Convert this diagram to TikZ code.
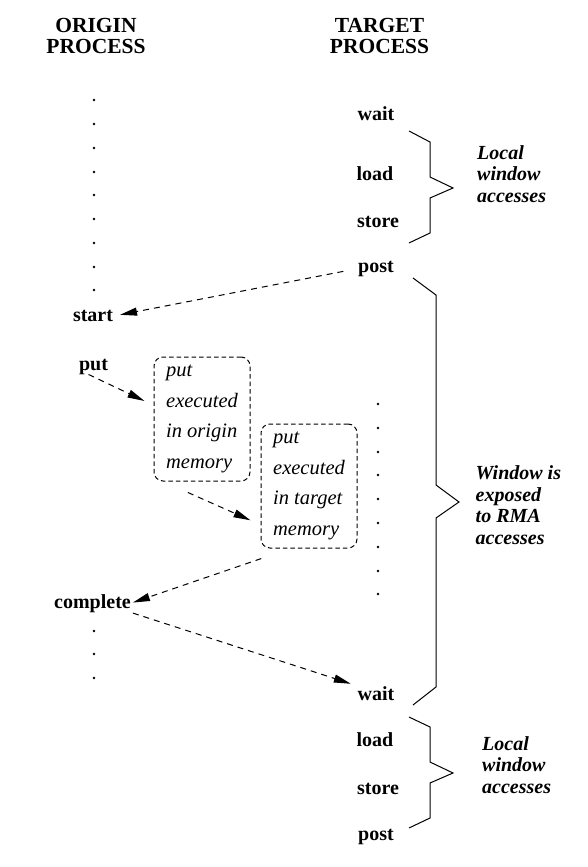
\documentclass[tikz,border=0pt]{standalone}
\usepackage{fontspec}
\setmainfont{Liberation Serif}
\usetikzlibrary{arrows.meta,calc}
\begin{document}
\begin{tikzpicture}[x=1pt,y=-1pt,
  head/.style={font=\fontsize{21.5}{21}\selectfont\bfseries, align=center, inner sep=0pt},
  lbl/.style={font=\fontsize{20}{24}\selectfont\bfseries, inner sep=0pt, anchor=base},
  membox/.style={draw, dash pattern=on 4.5pt off 3pt, rounded corners=9pt, line width=1pt,
    minimum width=96pt, minimum height=124pt, inner sep=0pt, align=left,
    font=\fontsize{20.5}{30.5}\selectfont\itshape},
  note/.style={font=\fontsize{20}{21.5}\selectfont\bfseries\itshape, align=left, inner sep=0pt, anchor=west},
  flow/.style={-{Triangle[length=17pt,width=8pt]}, dash pattern=on 6pt off 5pt, line width=1pt},
  bracep/.style={line width=1pt, line join=miter},
  dotc/.style={fill=black}
]
\useasboundingbox (0,0) rectangle (588,867);

% headings
\node[head] (hor) at (96,35.5) {ORIGIN\\PROCESS};
\node[head] (hta) at (379.5,35.5) {TARGET\\PROCESS};

% target labels (top)
\node[lbl] (wait1) at (376,120.5) {wait};
\node[lbl] (load1) at (375,180) {load};
\node[lbl] (store1) at (378,227) {store};
\node[lbl] (post1) at (376,272) {post};

% target labels (bottom)
\node[lbl] (wait2) at (376,700) {wait};
\node[lbl] (load2) at (375,746) {load};
\node[lbl] (store2) at (378,794) {store};
\node[lbl] (post2) at (376,840) {post};

% origin labels
\node[lbl] (start) at (93,321.7) {start};
\node[lbl] (put) at (93.5,370) {put};
\node[lbl] (complete) at (92.5,608) {complete};

% memory boxes
\node[membox] (box1) at (202,419) {put\\executed\\in origin\\memory};
\node[membox] (box2) at (309,486) {put\\executed\\in target\\memory};

% notes
\node[note] (note1) at (477,174) {Local\\window\\accesses};
\node[note] (note2) at (475.5,505.3) {Window is\\exposed\\to RMA\\accesses};
\node[note] (note3) at (482,765) {Local\\window\\accesses};

% dots
\foreach \yy in {100,124,148,172,195,219,243,267,290}
  \fill[dotc] (94,\yy) circle (1.4pt);
\foreach \yy in {404,428,452,475,499,523,547,571,594}
  \fill[dotc] (378,\yy) circle (1.4pt);
\foreach \yy in {631,654,678}
  \fill[dotc] (94,\yy) circle (1.4pt);

% braces
\draw[bracep] (409,131)--(430,142)--(430,177)--(453,188)--(430,198)--(430,233)--(409,243);
\draw[bracep] (413,278)--(436,295)--(436,485)--(459,502)--(436,518)--(436,687)--(413,705);
\draw[bracep] (409,717)--(430,727)--(430,762)--(453,773)--(430,783)--(430,818)--(409,828);

% arrows
\draw[flow, shorten <=15pt, shorten >=7pt] (post1.west) -- (start.east);
\draw[flow, shorten >=10pt] ([xshift=-5pt]put.south) -- ($(box1.north west)!0.39!(box1.south west)$);
\draw[flow, shorten <=27pt, shorten >=11pt] ($(box1.south west)!0.1!(box1.south east)$) -- ($(box2.north west)!0.81!(box2.south west)$);
\draw[flow, shorten <=31pt, shorten >=2pt] ($(box2.south west)!0.31!(box2.south east)$) -- (complete.east);
\draw[flow, shorten <=2pt, shorten >=7pt] (complete.south east) -- (wait2.north west);
\end{tikzpicture}
\end{document}
